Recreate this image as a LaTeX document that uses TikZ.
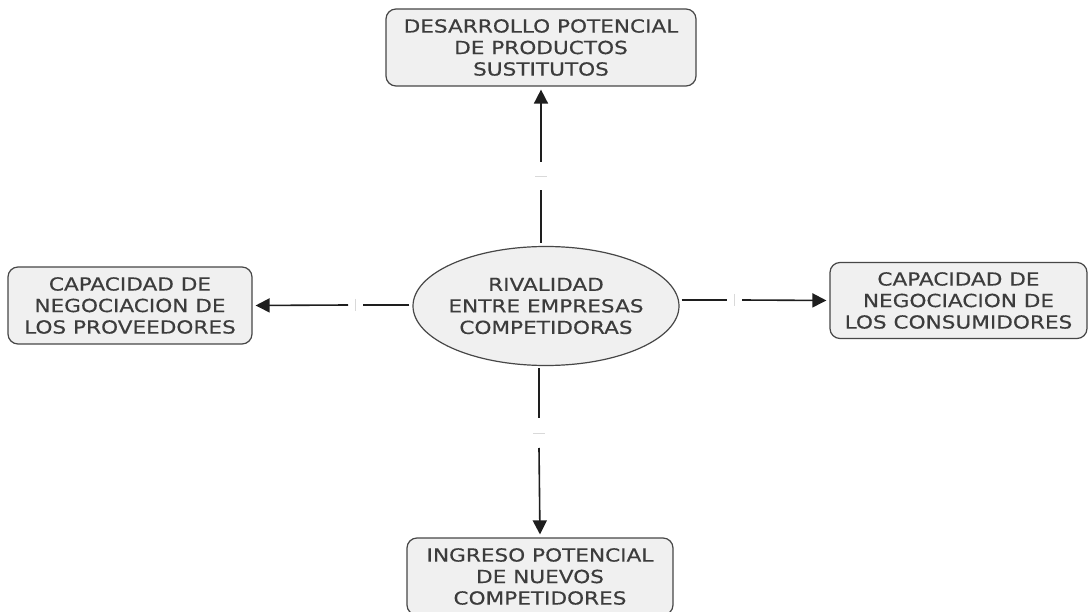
\documentclass[tikz,border=0pt]{standalone}
\usepackage{fontspec}
\usetikzlibrary{shapes.geometric,arrows.meta}
\newfontfamily\labfont[FakeStretch=1.2,FakeBold=0.4]{DejaVu Sans}
\definecolor{boxfill}{HTML}{F0F0F0}
\definecolor{boxline}{HTML}{474747}
\definecolor{labtext}{HTML}{3C3C3C}
\definecolor{wire}{HTML}{1E1E1E}
\tikzset{
  force/.style={draw=boxline, line width=1.2pt, fill=boxfill, rounded corners=10pt,
    align=center, font=\labfont\fontsize{18}{21.5}\selectfont, text=labtext,
    inner sep=0pt},
  hub/.style={ellipse, draw=boxline, line width=1.2pt, fill=boxfill,
    align=center, font=\labfont\fontsize{18}{21.5}\selectfont, text=labtext,
    inner xsep=-20pt, inner ysep=0pt},
  wireline/.style={draw=wire, line width=1.6pt},
  wirearrow/.style={wireline, -{Triangle[length=14pt,width=14pt]}, shorten >=3pt},
  tick/.style={draw=gray!30, line width=0.8pt}
}
\begin{document}
\begin{tikzpicture}[x=1pt,y=-1pt]
\useasboundingbox (0,0) rectangle (1088,612);
\fill[white] (0,0) rectangle (1088,612);

% central force and the four surrounding ones
\node[hub, minimum width=266pt, minimum height=119pt] (c) at (546,306)
  {RIVALIDAD\\ENTRE EMPRESAS\\COMPETIDORAS};
\node[force, minimum width=310pt, minimum height=77pt] (top) at (541,47.5)
  {DESARROLLO POTENCIAL\\DE PRODUCTOS\\SUSTITUTOS};
\node[force, minimum width=244pt, minimum height=77pt] (left) at (130,305.5)
  {CAPACIDAD DE\\NEGOCIACION DE\\LOS PROVEEDORES};
\node[force, minimum width=257pt, minimum height=76pt] (right) at (958.5,300.5)
  {CAPACIDAD DE\\NEGOCIACION DE\\LOS CONSUMIDORES};
\node[force, minimum width=266pt, minimum height=77pt] (bottom) at (540,576.5)
  {INGRESO POTENCIAL\\DE NUEVOS\\COMPETIDORES};

% break points of each connector
\coordinate (ua) at (541,190); \coordinate (ub) at (541,162);
\coordinate (la) at (363,305); \coordinate (lb) at (348,305);
\coordinate (ra) at (727,300); \coordinate (rb) at (742,300);
\coordinate (da) at (539,418); \coordinate (db) at (539,448);

% connectors, each split by a short gap
\draw[wireline] (c.north) ++(-5,-3) -- (ua);
\draw[wirearrow] (ub) -- (top.south);
\draw[wireline] (c.west) ++(-3,-1) -- (la);
\draw[wirearrow] (lb) -- (left.east);
\draw[wireline] (c.east) ++(2,-6) -- (ra);
\draw[wirearrow] (rb) -- (right.west);
\draw[wireline] (c.south) ++(-7,2) -- (da);
\draw[wirearrow] (db) -- (bottom.north);

% faint marks inside the gaps
\draw[tick] (535,176) -- (547,176);
\draw[tick] (355.5,299) -- (355.5,311);
\draw[tick] (734.5,294) -- (734.5,306);
\draw[tick] (533,433) -- (545,433);
\end{tikzpicture}
\end{document}
